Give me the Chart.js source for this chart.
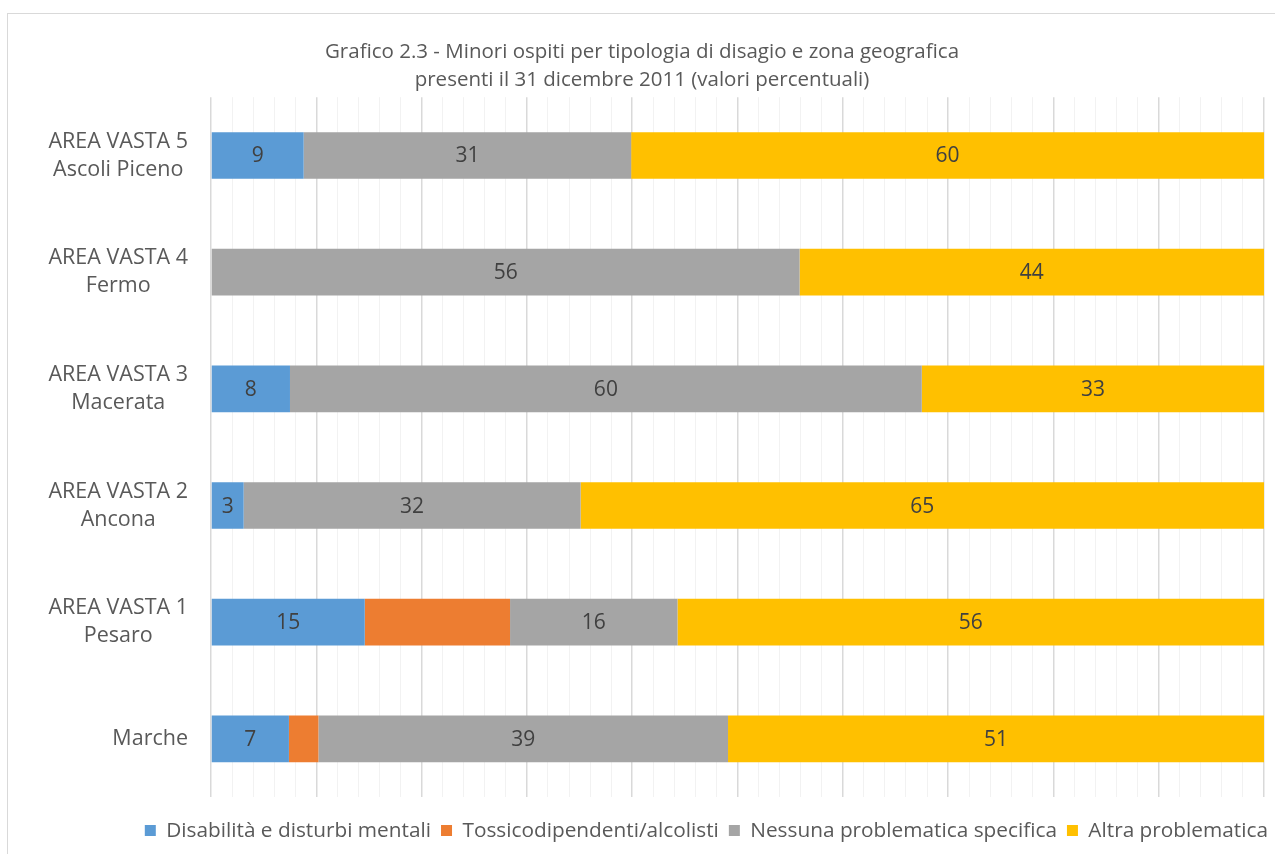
<!DOCTYPE html>
<html>
<head>
<meta charset="utf-8">
<script src="https://cdn.jsdelivr.net/npm/chart.js@4.4.1/dist/chart.umd.min.js"></script>
<style>
  html, body { margin: 0; padding: 0; background: #fff; }
  #wrap { width: 1275px; height: 854px; position: relative; }
</style>
</head>
<body>
<div id="wrap"><canvas id="c"></canvas></div>
<script>
const categories = [
  ["AREA VASTA 5", "Ascoli Piceno"],
  ["AREA VASTA 4", "Fermo"],
  ["AREA VASTA 3", "Macerata"],
  ["AREA VASTA 2", "Ancona"],
  ["AREA VASTA 1", "Pesaro"],
  ["Marche"]
];
const seriesNames = [
  "Disabilità e disturbi mentali",
  "Tossicodipendenti/alcolisti",
  "Nessuna problematica specifica",
  "Altra problematica"
];
const disabilita = [8.8, 0, 7.5, 3.1, 14.6, 7.4];
const tossico = [0, 0, 0, 0, 13.8, 2.8];
const nessuna = [31.1, 55.9, 60.0, 32.0, 15.9, 38.9];
const altra = [60.1, 44.1, 32.5, 64.9, 55.7, 50.9];
const showLabels = [true, false, true, true];
const xTicks = { min: 0, max: 100, step: 2, majorEvery: 10 };
const titleLines = [
  "Grafico 2.3 - Minori ospiti per tipologia di disagio e zona geografica",
  "presenti il 31 dicembre 2011 (valori percentuali)"
];

const colors = ["#5b9bd5", "#ed7d31", "#a5a5a5", "#ffc000"];
const FONT = "'Open Sans', sans-serif";
const seriesValues = [disabilita, tossico, nessuna, altra];

const borderPlugin = {
  id: 'outerBorder',
  beforeDraw(chart) {
    const ctx = chart.ctx;
    ctx.save();
    ctx.strokeStyle = '#d9d9d9';
    ctx.lineWidth = 1;
    ctx.strokeRect(7.5, 13.5, 1400, 1000);
    ctx.restore();
  }
};

const legendShiftPlugin = {
  id: 'legendShift',
  afterLayout(chart) {
    if (chart.legend) {
      chart.legend.left += 14;
      chart.legend.right += 14;
      chart.legend.top += 1;
      chart.legend.bottom += 1;
    }
  }
};

const yLabelPlugin = {
  id: 'yLabels',
  afterDraw(chart) {
    const ctx = chart.ctx;
    const yScale = chart.scales.y;
    const right = yScale.right - 23;
    ctx.save();
    ctx.font = "21.5px " + FONT;
    ctx.fillStyle = '#595959';
    ctx.textAlign = 'center';
    ctx.textBaseline = 'middle';
    const lh = 28;
    categories.forEach((lines, i) => {
      const y = yScale.getPixelForValue(i);
      let maxW = 0;
      lines.forEach(l => { maxW = Math.max(maxW, ctx.measureText(l).width); });
      const cx = right - maxW / 2;
      const y0 = y - (lines.length - 1) * lh / 2;
      lines.forEach((l, k) => ctx.fillText(l, cx, y0 + k * lh));
    });
    ctx.restore();
  }
};

const dataLabelPlugin = {
  id: 'dataLabels',
  afterDatasetsDraw(chart) {
    const ctx = chart.ctx;
    ctx.save();
    ctx.font = "21px " + FONT;
    ctx.fillStyle = '#404040';
    ctx.textAlign = 'center';
    ctx.textBaseline = 'middle';
    chart.data.datasets.forEach((ds, di) => {
      if (!showLabels[di]) return;
      const meta = chart.getDatasetMeta(di);
      meta.data.forEach((el, i) => {
        const v = ds.data[i];
        if (!v) return;
        const cx = (el.x + el.base) / 2;
        ctx.fillText(String(Math.round(v)), cx, el.y + 1);
      });
    });
    ctx.restore();
  }
};

new Chart(document.getElementById('c'), {
  type: 'bar',
  data: {
    labels: categories,
    datasets: seriesNames.map((name, i) => ({
      label: name,
      data: seriesValues[i],
      backgroundColor: colors[i],
      borderWidth: 0,
      categoryPercentage: 1.0,
      barPercentage: 0.4
    }))
  },
  options: {
    indexAxis: 'y',
    responsive: true,
    maintainAspectRatio: false,
    animation: false,
    layout: { padding: { left: 20, right: 11, top: 0, bottom: 4 } },
    scales: {
      x: {
        stacked: true,
        min: xTicks.min,
        max: xTicks.max,
        ticks: { display: false, stepSize: xTicks.step },
        grid: {
          drawTicks: false,
          color: (c) => (c.tick && Math.round(c.tick.value) % xTicks.majorEvery === 0) ? '#d9d9d9' : '#f2f2f2',
          lineWidth: (c) => (c.tick && Math.round(c.tick.value) % xTicks.majorEvery === 0) ? 1.5 : 1
        },
        border: { display: false },
        afterFit(scale) { scale.height = 12; }
      },
      y: {
        stacked: true,
        ticks: { display: false },
        grid: { display: false },
        border: { display: false },
        afterFit(scale) { scale.width = 191; }
      }
    },
    plugins: {
      title: {
        display: true,
        text: titleLines,
        color: '#595959',
        font: { family: FONT, size: 20.5, weight: 'normal', lineHeight: 1.37 },
        padding: { top: 38, bottom: 3 }
      },
      legend: {
        position: 'bottom',
        align: 'end',
        labels: {
          color: '#595959',
          font: { family: FONT, size: 20.8 },
          boxWidth: 11,
          boxHeight: 11,
          padding: 10
        }
      },
      tooltip: { enabled: false }
    }
  },
  plugins: [borderPlugin, legendShiftPlugin, yLabelPlugin, dataLabelPlugin]
});
</script>
</body>
</html>
